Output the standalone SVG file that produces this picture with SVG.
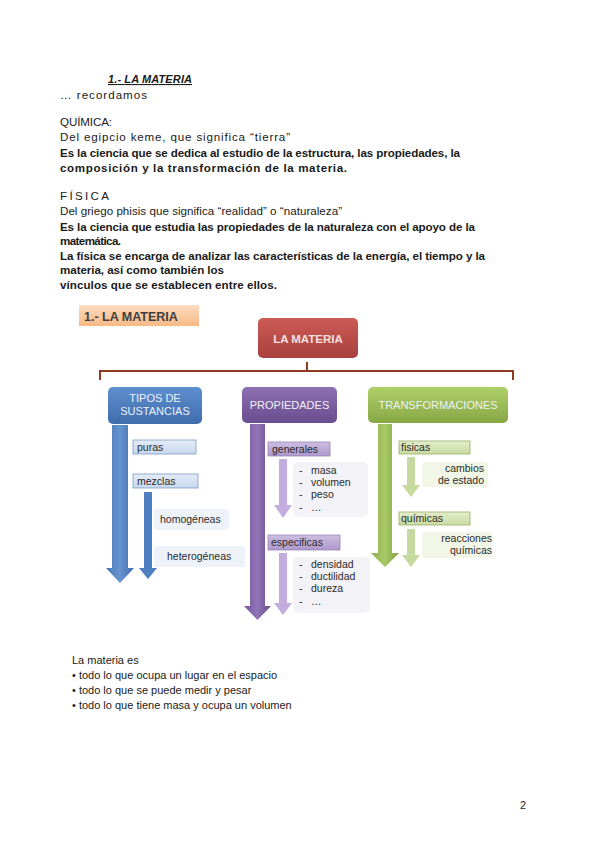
<svg xmlns="http://www.w3.org/2000/svg" width="600" height="848" viewBox="0 0 600 848">
<defs>
<linearGradient id="gOrange" x1="0" y1="0" x2="0" y2="1"><stop offset="0" stop-color="#fcdcc0"/><stop offset="1" stop-color="#f8b985"/></linearGradient>
<linearGradient id="gRed" x1="0" y1="0" x2="0" y2="1"><stop offset="0" stop-color="#cd5b57"/><stop offset="1" stop-color="#a8403d"/></linearGradient>
<linearGradient id="gBlue" x1="0" y1="0" x2="0" y2="1"><stop offset="0" stop-color="#5e8fcf"/><stop offset="1" stop-color="#3f6cad"/></linearGradient>
<linearGradient id="gPurple" x1="0" y1="0" x2="0" y2="1"><stop offset="0" stop-color="#8d70b2"/><stop offset="1" stop-color="#6a4d8f"/></linearGradient>
<linearGradient id="gGreen" x1="0" y1="0" x2="0" y2="1"><stop offset="0" stop-color="#afcf68"/><stop offset="1" stop-color="#86a845"/></linearGradient>
<linearGradient id="gBlueArrow" x1="0" y1="0" x2="1" y2="0"><stop offset="0" stop-color="#4a78b8"/><stop offset="0.5" stop-color="#6794d0"/><stop offset="1" stop-color="#3f6cad"/></linearGradient>
<linearGradient id="gPurpleArrow" x1="0" y1="0" x2="1" y2="0"><stop offset="0" stop-color="#74559b"/><stop offset="0.5" stop-color="#9275b8"/><stop offset="1" stop-color="#664a8a"/></linearGradient>
<linearGradient id="gGreenArrow" x1="0" y1="0" x2="1" y2="0"><stop offset="0" stop-color="#8fb04e"/><stop offset="0.5" stop-color="#a9c966"/><stop offset="1" stop-color="#819f42"/></linearGradient>
<linearGradient id="gSubBlue" x1="0" y1="0" x2="0" y2="1"><stop offset="0" stop-color="#e4ecf7"/><stop offset="1" stop-color="#c8d8ee"/></linearGradient>
<linearGradient id="gSubPurple" x1="0" y1="0" x2="0" y2="1"><stop offset="0" stop-color="#cdbfe0"/><stop offset="1" stop-color="#ad98cc"/></linearGradient>
<linearGradient id="gSubGreen" x1="0" y1="0" x2="0" y2="1"><stop offset="0" stop-color="#e3edcc"/><stop offset="1" stop-color="#c9dba2"/></linearGradient>
</defs>
<style>
.t{font-family:"Liberation Sans",Arial,sans-serif;font-size:11px;fill:#1a1a1a}
.top{font-size:11.6px}
.b{font-weight:bold}
.h{font-family:"Liberation Sans",Arial,sans-serif;font-size:11px;fill:#eef2f8;text-anchor:middle}
.s{font-family:"Liberation Sans",Arial,sans-serif;font-size:10.5px;fill:#2a2a2a}
.sr{font-family:"Liberation Sans",Arial,sans-serif;font-size:10.5px;fill:#2a2a2a;text-anchor:end}
</style>
<rect width="600" height="848" fill="#ffffff"/>

<g id="intro-text">
<text class="t b" x="108" y="83" font-style="italic" text-decoration="underline" textLength="84">1.- LA MATERIA</text>
<text class="t top" x="60" y="99" textLength="87">… recordamos</text>
<text class="t top" x="60" y="126" textLength="52">QUÍMICA:</text>
<text class="t top" x="60" y="141" textLength="230">Del egipcio keme, que significa “tierra”</text>
<text class="t top b" x="60" y="157" textLength="400">Es la ciencia que se dedica al estudio de la estructura, las propiedades, la</text>
<text class="t top b" x="60" y="172" textLength="287">composición y la transformación de la materia.</text>
<text class="t top" x="60" y="200" textLength="49">FÍSICA</text>
<text class="t top" x="60" y="215" textLength="282">Del griego phisis que significa “realidad” o “naturaleza”</text>
<text class="t top b" x="60" y="231" textLength="415">Es la ciencia que estudia las propiedades de la naturaleza con el apoyo de la</text>
<text class="t top b" x="60" y="245" textLength="61">matemática.</text>
<text class="t top b" x="60" y="260" textLength="425">La física se encarga de analizar las características de la energía, el tiempo y la</text>
<text class="t top b" x="60" y="274" textLength="164">materia, así como también los</text>
<text class="t top b" x="60" y="289" textLength="217">vínculos que se establecen entre ellos.</text>
</g>

<g id="header">
<rect x="79" y="305" width="120" height="21" fill="url(#gOrange)"/>
<text x="84" y="321" font-family="Liberation Sans,Arial,sans-serif" font-size="12.5" font-weight="bold" fill="#3f3f3f">1.- LA MATERIA</text>
</g>

<g id="connectors">
<path d="M100,380 V371 H513 V380 M307,371 V362" fill="none" stroke="#8e3b1f" stroke-width="2"/>
<polygon points="112,425 128,425 128,568 134,568 120,583 106,568 112,568" fill="url(#gBlueArrow)"/>
<polygon points="144,492 152,492 152,568 157,568 148,579 139,568 144,568" fill="#4f7fc0"/>
<polygon points="250,424 265,424 265,606 271,606 257.5,620 244,606 250,606" fill="url(#gPurpleArrow)"/>
<polygon points="279,459 287,459 287,505 292,505 283,518 274,505 279,505" fill="#c3addf"/>
<polygon points="279,553 287,553 287,603 292,603 283,615 274,603 279,603" fill="#c3addf"/>
<polygon points="378,424 392,424 392,553 399,553 385,567 371,553 378,553" fill="url(#gGreenArrow)"/>
<polygon points="407,457 415,457 415,485 420,485 411,497 402,485 407,485" fill="#c6d99f"/>
<polygon points="407,529 415,529 415,555 420,555 411,567 402,555 407,555" fill="#c6d99f"/>
</g>

<g id="la-materia">
<rect x="258" y="318" width="100" height="40" rx="5" fill="url(#gRed)"/>
<text x="308" y="343" text-anchor="middle" font-family="Liberation Sans,Arial,sans-serif" font-size="11.5" font-weight="bold" fill="#f5e1e0">LA MATERIA</text>
</g>

<g id="tipos">
<rect x="108" y="387" width="94" height="37" rx="5" fill="url(#gBlue)"/>
<text class="h" x="155" y="402">TIPOS DE</text>
<text class="h" x="155" y="415">SUSTANCIAS</text>
</g>
<g id="propiedades">
<rect x="242" y="387" width="95" height="36" rx="5" fill="url(#gPurple)"/>
<text class="h" x="289.5" y="409">PROPIEDADES</text>
</g>
<g id="transformaciones">
<rect x="368" y="387" width="140" height="36" rx="5" fill="url(#gGreen)"/>
<text class="h" x="438" y="409">TRANSFORMACIONES</text>
</g>

<g id="puras">
<rect x="133" y="440" width="63" height="14" fill="url(#gSubBlue)" stroke="#7f9cc4" stroke-width="0.8"/>
<text class="s" x="137" y="451">puras</text>
</g>
<g id="mezclas">
<rect x="133" y="474" width="65" height="14" fill="url(#gSubBlue)" stroke="#7f9cc4" stroke-width="0.8"/>
<text class="s" x="137" y="485">mezclas</text>
</g>
<g id="homogeneas">
<rect x="154" y="509" width="75" height="21" rx="3" fill="#eef3fa"/>
<text class="s" x="160" y="523">homogéneas</text>
</g>
<g id="heterogeneas">
<rect x="154" y="546" width="91" height="21" rx="3" fill="#eef3fa"/>
<text class="s" x="167" y="560">heterogéneas</text>
</g>

<g id="generales">
<rect x="268" y="442" width="62" height="14" fill="url(#gSubPurple)" stroke="#9a86b8" stroke-width="0.8"/>
<text class="s" x="272" y="453">generales</text>
</g>
<g id="lista-generales">
<rect x="293" y="462" width="75" height="55" rx="5" fill="#f3f2f7"/>
<text class="s" x="299" y="474">-</text><text class="s" x="311" y="474">masa</text>
<text class="s" x="299" y="486">-</text><text class="s" x="311" y="486">volumen</text>
<text class="s" x="299" y="498">-</text><text class="s" x="311" y="498">peso</text>
<text class="s" x="299" y="511">-</text><text class="s" x="311" y="511">…</text>
</g>
<g id="especificas">
<rect x="268" y="535" width="72" height="15" fill="url(#gSubPurple)" stroke="#9a86b8" stroke-width="0.8"/>
<text class="s" x="271" y="546">especificas</text>
</g>
<g id="lista-especificas">
<rect x="293" y="557" width="77" height="56" rx="5" fill="#f3f2f7"/>
<text class="s" x="299" y="568">-</text><text class="s" x="311" y="568">densidad</text>
<text class="s" x="299" y="580">-</text><text class="s" x="311" y="580">ductilidad</text>
<text class="s" x="299" y="592">-</text><text class="s" x="311" y="592">dureza</text>
<text class="s" x="299" y="605">-</text><text class="s" x="311" y="605">…</text>
</g>

<g id="fisicas">
<rect x="399" y="441" width="71" height="13" fill="url(#gSubGreen)" stroke="#98b062" stroke-width="0.8"/>
<text class="s" x="401" y="451">fisicas</text>
</g>
<g id="cambios">
<rect x="422" y="462" width="66" height="25" rx="3" fill="#f1f6e6"/>
<text class="sr" x="484" y="472">cambios</text>
<text class="sr" x="484" y="484">de estado</text>
</g>
<g id="quimicas">
<rect x="399" y="512" width="71" height="13" fill="url(#gSubGreen)" stroke="#98b062" stroke-width="0.8"/>
<text class="s" x="401" y="522">químicas</text>
</g>
<g id="reacciones">
<rect x="422" y="532" width="70" height="26" rx="3" fill="#f1f6e6"/>
<text class="sr" x="492" y="542">reacciones</text>
<text class="sr" x="492" y="554">químicas</text>
</g>

<g id="outro-text">
<text class="t" x="72" y="664">La materia es</text>
<text class="t" x="72" y="679">• todo lo que ocupa un lugar en el espacio</text>
<text class="t" x="72" y="694">• todo lo que se puede medir y pesar</text>
<text class="t" x="72" y="709">• todo lo que tiene masa y ocupa un volumen</text>
<text class="t" x="520" y="809">2</text>
</g>
</svg>
